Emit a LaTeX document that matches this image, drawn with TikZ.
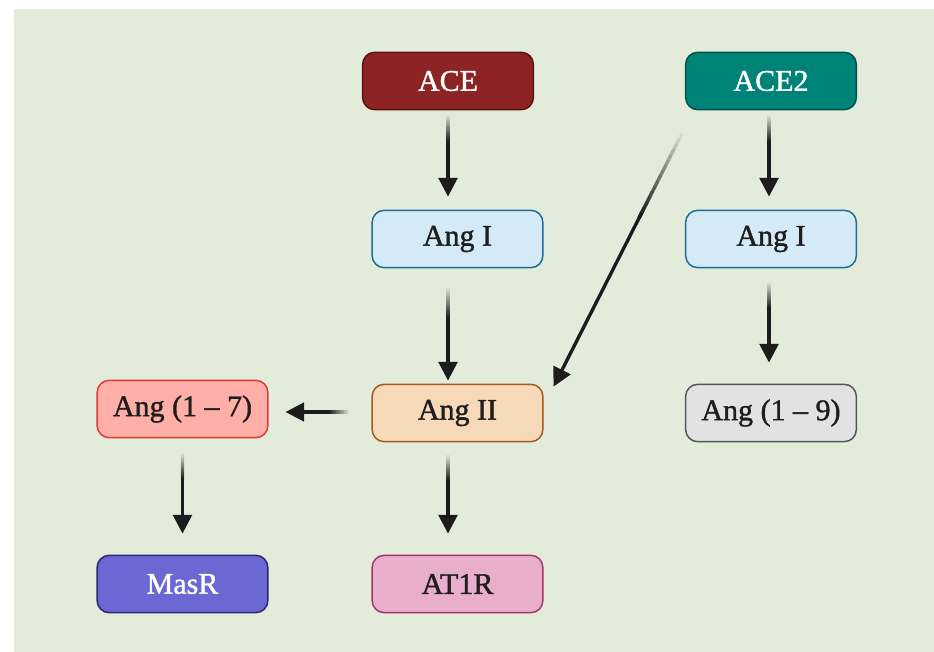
\documentclass[tikz,border=0pt]{standalone}
\usepackage{fontspec}
\setmainfont{Liberation Serif}
\newfontfamily\boxfont[FakeBold=1.3,Ligatures=TeX]{Liberation Serif}
\usetikzlibrary{calc,arrows.meta}

\definecolor{bggreen}{RGB}{227,235,218}
\definecolor{txtdark}{RGB}{30,30,30}
\definecolor{arrowdark}{RGB}{28,28,28}

\tikzset{every picture/.style={line width=0.75pt},
  box/.style={rounded corners=9pt, minimum width=128pt, minimum height=43pt, line width=1.1pt, inner sep=0pt, text=txtdark, font=\boxfont\fontsize{22.5}{24}\selectfont},
  arrowline/.style={draw=arrowdark, line width=2.5pt, line cap=butt, -{Triangle[length=14pt,width=14pt]}},
  fadeseg/.style={draw=arrowdark, line width=2.5pt, line cap=butt}}

% arrow whose tail fades in
\newcommand{\fadearrow}[2]{%
  \path #1 coordinate (fa) #2 coordinate (fb);
  \foreach \k [evaluate=\k as \op using 1/(16-\k)] in {0,...,14}
    \draw[fadeseg, draw opacity=\op] ($(fa)!\k/48!(fb)$) -- ($(fa)!1/3!(fb)$);
  \draw[arrowline] ($(fa)!15/48!(fb)$) -- (fb);
}

\begin{document}
\begin{tikzpicture}[x=0.75pt,y=0.75pt,yscale=-1]
	\useasboundingbox (0,0) rectangle (934,652);
	%Background
	\fill[bggreen] (14,9) rectangle (934,652);

	%Boxes
	\node[box, fill={rgb,255:red,142;green,35;blue,35}, draw={rgb,255:red,90;green,16;blue,16}, text=white] (ace) at (448,81) {ACE};
	\node[box, fill={rgb,255:red,0;green,131;blue,119}, draw={rgb,255:red,0;green,83;blue,74}, text=white] (ace2) at (771,81) {ACE2};
	\node[box, fill={rgb,255:red,213;green,234;blue,247}, draw={rgb,255:red,28;green,107;blue,155}] (angIa) at (457.5,239) {Ang I};
	\node[box, fill={rgb,255:red,213;green,234;blue,247}, draw={rgb,255:red,28;green,107;blue,155}] (angIb) at (771,239) {Ang I};
	\node[box, fill={rgb,255:red,245;green,217;blue,184}, draw={rgb,255:red,166;green,89;blue,28}] (angII) at (457.5,413) {Ang II};
	\node[box, fill={rgb,255:red,255;green,175;blue,168}, draw={rgb,255:red,226;green,58;blue,51}] (ang17) at (182.5,409) {Ang (1 -- 7)};
	\node[box, fill={rgb,255:red,226;green,226;blue,226}, draw={rgb,255:red,85;green,85;blue,85}] (ang19) at (771,413) {Ang (1 -- 9)};
	\node[box, fill={rgb,255:red,107;green,103;blue,211}, draw={rgb,255:red,43;green,40;blue,112}, text=white] (masr) at (182.5,584) {MasR};
	\node[box, fill={rgb,255:red,232;green,174;blue,203}, draw={rgb,255:red,163;green,53;blue,111}] (at1r) at (457.5,584) {AT1R};

	%Arrows
	\fadearrow{($(ace.south)+(0,5)$)}{($(ace.south |- angIa.north)+(0,-13)$)}
	\fadearrow{($(ace.south |- angIa.south)+(0,20)$)}{($(ace.south |- angII.north)+(0,-3)$)}
	\fadearrow{($(ace2.south)+(-2,5)$)}{($(ace2.south |- angIb.north)+(-2,-13)$)}
	\fadearrow{($(angIb.south)+(-2,14)$)}{($(angIb.south |- ang19.north)+(-2,-21)$)}
	\fadearrow{($(ace2.south west)+(-3,23)$)}{($(angII.north east)+(10,3)$)}
	\fadearrow{($(angII.west)+(-22,-1)$)}{($(ang17.east)+(17,3)$)}
	\fadearrow{($(ang17.south)+(0,15)$)}{($(ang17.south |- masr.north)+(0,-21)$)}
	\fadearrow{($(ace.south |- angII.south)+(0,13)$)}{($(ace.south |- at1r.north)+(0,-21)$)}
\end{tikzpicture}
\end{document}
